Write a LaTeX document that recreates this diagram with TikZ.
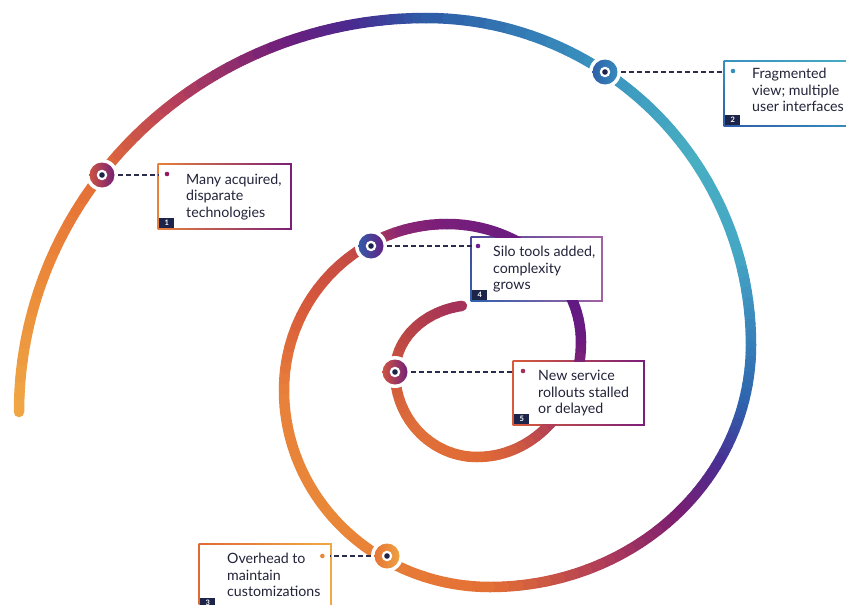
\documentclass[tikz,border=0pt]{standalone}
\usepackage{fontspec}
\setmainfont{Lato}
\usetikzlibrary{calc,shadings}
\pgfdeclarelayer{back}
\pgfdeclarelayer{bg}
\pgfsetlayers{back,bg,main}
\definecolor{s01}{HTML}{F0A845}
\definecolor{s02}{HTML}{EB8A3A}
\definecolor{s03}{HTML}{E46E36}
\definecolor{s04}{HTML}{B8405A}
\definecolor{s05}{HTML}{6E1E7C}
\definecolor{s06}{HTML}{4A2A90}
\definecolor{s07}{HTML}{2D5BA7}
\definecolor{s08}{HTML}{3890BE}
\definecolor{s09}{HTML}{48AEC2}
\definecolor{s10}{HTML}{44A6C4}
\definecolor{s11}{HTML}{3880BA}
\definecolor{s12}{HTML}{2E62AD}
\definecolor{s13}{HTML}{4A2E92}
\definecolor{s14}{HTML}{7A1E72}
\definecolor{s15}{HTML}{B03C58}
\definecolor{s16}{HTML}{E36E34}
\definecolor{s17}{HTML}{E98838}
\definecolor{s18}{HTML}{E8813A}
\definecolor{s19}{HTML}{D85A3A}
\definecolor{s20}{HTML}{C04848}
\definecolor{s21}{HTML}{8A2575}
\definecolor{s22}{HTML}{7A1E7A}
\definecolor{s23}{HTML}{5C1A85}
\definecolor{s24}{HTML}{6A1A80}
\definecolor{s25}{HTML}{9A2C66}
\definecolor{s26}{HTML}{D05A40}
\definecolor{s27}{HTML}{E06A35}
\definecolor{s28}{HTML}{E0703A}
\definecolor{s29}{HTML}{D05A3C}
\definecolor{s30}{HTML}{BE4844}
\definecolor{s31}{HTML}{A3305A}
\definecolor{navy}{HTML}{1C2449}
\definecolor{ink}{HTML}{23233A}
\definecolor{dashc}{HTML}{2B2D4A}
\newcommand\sppiece[8]{%
  \foreach \i in {0,...,7}{%
    \pgfmathsetmacro\sa{#5+(#6-#5)*\i/8}%
    \pgfmathsetmacro\ea{#5+(#6-#5)*(\i+1)/8}%
    \pgfmathtruncatemacro\pc{100*(\i+0.5)/8}%
    \draw[spiralline, color=#8!\pc!#7] (#1,#2) ++(\sa:#3 and #4) arc[start angle=\sa, end angle=\ea, x radius=#3, y radius=#4];
  }%
}
\tikzset{
  spiralline/.style={line width=10.5pt, line cap=round},
  boxnode/.style={fill=white, inner sep=0pt, anchor=north west},
  txt/.style={text=ink, align=left, inner sep=0pt, font=\fontsize{14.2}{16.6}\selectfont},
  numbox/.style={fill=navy, text=white, minimum width=15pt, minimum height=10pt, inner sep=0pt, font=\fontsize{7.5}{7.5}\selectfont\bfseries, anchor=south west},
  dashline/.style={draw=dashc, line width=1.6pt, dash pattern=on 4.5pt off 3.5pt},
  marker/.style 2 args={circle, minimum size=32pt, inner sep=0pt, fill=white,
    path picture={
      \shade[left color=#1, right color=#2] (path picture bounding box.center) circle (12.5);
      \fill[white] (path picture bounding box.center) circle (5.3);
      \fill[navy] (path picture bounding box.center) circle (2.8);
    }},
  dotc/.style={circle, fill=#1, minimum size=4.6pt, inner sep=0pt}
}
\begin{document}
\begin{tikzpicture}[x=1pt, y=-1pt]
\useasboundingbox (0,0) rectangle (846,605);
\begin{pgfonlayer}{back}
\fill[white] (0,0) rectangle (846,605);
\end{pgfonlayer}
% spiral
\sppiece{426}{412}{407}{394}{180}{200}{s01}{s02}
\sppiece{426}{412}{407}{394}{200}{217}{s02}{s03}
\sppiece{426}{412}{407}{394}{217}{232}{s03}{s04}
\sppiece{426}{412}{407}{394}{232}{250}{s04}{s05}
\sppiece{426}{412}{407}{394}{250}{260}{s05}{s06}
\sppiece{426}{412}{407}{394}{260}{270}{s06}{s07}
\sppiece{426}{345}{325}{327}{270}{300}{s07}{s08}
\sppiece{426}{345}{325}{327}{300}{325}{s08}{s09}
\sppiece{426}{345}{325}{327}{325}{345}{s09}{s10}
\sppiece{426}{345}{325}{327}{345}{360}{s10}{s11}
\sppiece{490}{345}{261}{242}{0}{15}{s11}{s12}
\sppiece{490}{345}{261}{242}{15}{30}{s12}{s13}
\sppiece{490}{345}{261}{242}{30}{45}{s13}{s14}
\sppiece{490}{345}{261}{242}{45}{65}{s14}{s15}
\sppiece{490}{345}{261}{242}{65}{90}{s15}{s16}
\sppiece{490}{390}{206}{197}{90}{140}{s16}{s17}
\sppiece{490}{390}{206}{197}{140}{180}{s17}{s18}
\sppiece{447}{390}{163}{166}{180}{210}{s18}{s19}
\sppiece{447}{390}{163}{166}{210}{240}{s19}{s20}
\sppiece{447}{390}{163}{166}{240}{255}{s20}{s21}
\sppiece{447}{390}{163}{166}{255}{270}{s21}{s22}
\sppiece{447}{342}{134}{118}{270}{330}{s22}{s23}
\sppiece{447}{342}{134}{118}{330}{360}{s23}{s24}
\sppiece{477}{342}{104}{115}{0}{30}{s24}{s25}
\sppiece{477}{342}{104}{115}{30}{70}{s25}{s26}
\sppiece{477}{342}{104}{115}{70}{90}{s26}{s27}
\sppiece{477}{372}{82}{85}{90}{140}{s27}{s28}
\sppiece{477}{372}{82}{85}{140}{180}{s28}{s29}
\sppiece{475}{372}{80}{67}{180}{210}{s29}{s30}
\sppiece{475}{372}{80}{67}{210}{260.6}{s30}{s31}
% boxes
\node[boxnode, minimum width=131pt, minimum height=63pt] (b1) at (159,165) {};
\node[boxnode, minimum width=135pt, minimum height=63pt] (b2) at (725,62) {};
\node[boxnode, minimum width=129pt, minimum height=62pt] (b4) at (472,238) {};
\node[boxnode, minimum width=129pt, minimum height=62pt] (b5) at (514,362) {};
\node[boxnode, minimum width=130pt, minimum height=63pt] (b3) at (200,545) {};
\begin{pgfonlayer}{bg}
\shade[left color=s18, right color=s22] ($(b1.south west)+(-1.4,1.4)$) rectangle ($(b1.north east)+(1.4,-1.4)$);
\shade[lower left=s07, upper left=s08, upper right=s09, lower right=s08] ($(b2.south west)+(-1.4,1.4)$) rectangle ($(b2.north east)+(1.4,-1.4)$);
\shade[lower left=s12, upper left=s12!60!s22, upper right=s22!70!white, lower right=s22!70!white] ($(b4.south west)+(-1.4,1.4)$) rectangle ($(b4.north east)+(1.4,-1.4)$);
\shade[left color=s19, right color=s22] ($(b5.south west)+(-1.4,1.4)$) rectangle ($(b5.north east)+(1.4,-1.4)$);
\shade[left color=s27, right color=s01] ($(b3.south west)+(-1.4,1.4)$) rectangle ($(b3.north east)+(1.4,-1.4)$);
\end{pgfonlayer}
% texts
\node[txt, anchor=west] (t1) at ([xshift=27pt]b1.west) {Many acquired,\\disparate\\technologies};
\node[txt, anchor=north west] (t2) at ([xshift=27pt, yshift=-6pt]b2.north west) {Fragmented\\view; multiple\\user interfaces};
\node[txt, anchor=west] (t4) at ([xshift=21pt]b4.west) {Silo tools added,\\complexity\\grows};
\node[txt, anchor=west] (t5) at ([xshift=24pt]b5.west) {New service\\rollouts stalled\\or delayed};
\node[txt, anchor=north west] (t3) at ([xshift=27pt, yshift=-8pt]b3.north west) {Overhead to\\maintain\\customizations};
% dots
\node[dotc=s22!80!red] (d1) at ([shift={(8,9)}]b1.north west) {};
\node[dotc=s08] (d2) at ([shift={(8,9)}]b2.north west) {};
\node[dotc=s21!80!blue] (d4) at ([shift={(6,8)}]b4.north west) {};
\node[dotc=s31] (d5) at ([shift={(9,9)}]b5.north west) {};
\node[dotc=s17] (d3) at ([shift={(-8,11)}]b3.north east) {};
% number squares
\node[numbox] (n1) at (b1.south west) {1};
\node[numbox] (n2) at (b2.south west) {2};
\node[numbox] (n4) at (b4.south west) {4};
\node[numbox] (n5) at (b5.south west) {5};
\node[numbox] (n3) at (b3.south west) {3};
% markers
\node[marker={s19}{s24}] (m1) at (102,175) {};
\node[marker={s07}{s08}] (m2) at (605,72) {};
\node[marker={s12}{s24}] (m4) at (371,246) {};
\node[marker={s19}{s24}] (m6) at (395,372) {};
\node[marker={s16}{s01}] (m5) at (387,556) {};
% connectors
\draw[dashline] (m1.east) -- (m1.east -| b1.west);
\draw[dashline] (m2.east) -- (m2.east -| b2.west);
\draw[dashline] (m4.east) -- (m4.east -| b4.west);
\draw[dashline] (m6.east) -- (m6.east -| b5.west);
\draw[dashline] (m5.west) -- (m5.west -| b3.east);
\end{tikzpicture}
\end{document}
